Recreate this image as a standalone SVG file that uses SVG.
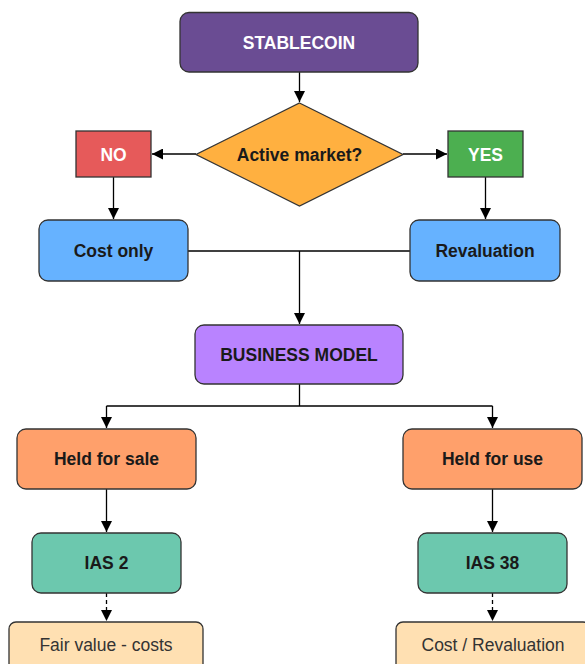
<svg xmlns="http://www.w3.org/2000/svg" width="585" height="664" viewBox="0 0 585 664">
<defs>
<marker id="arr" markerUnits="userSpaceOnUse" markerWidth="11" markerHeight="11" refX="11" refY="5.5" orient="auto" viewBox="0 0 11 11">
<path d="M0,0 L11,5.5 L0,11 z" fill="#000"/>
</marker>
<style>
.box{stroke:#333;stroke-width:1.3}
.t{font-family:"Liberation Sans",Arial,sans-serif;font-size:17.5px;font-weight:bold;text-anchor:middle;fill:#1a1a1a}
.w{fill:#fff}
.r{font-weight:normal;fill:#333}
.c{fill:none;stroke:#000;stroke-width:1.3}
.d{stroke-dasharray:4 3}
</style>
</defs>
<rect width="585" height="664" fill="#fff"/>
<g id="connectors">
<path class="c" d="M299.5,72 V102" marker-end="url(#arr)"/>
<path class="c" d="M196,154 H152" marker-end="url(#arr)"/>
<path class="c" d="M403,154 H447" marker-end="url(#arr)"/>
<path class="c" d="M113.5,177 V219" marker-end="url(#arr)"/>
<path class="c" d="M485.5,177 V219" marker-end="url(#arr)"/>
<path class="c" d="M188,251 H410"/>
<path class="c" d="M299.5,251 V324" marker-end="url(#arr)"/>
<path class="c" d="M299.5,384 V406"/>
<path class="c" d="M106.5,406 H492.5"/>
<path class="c" d="M106.5,406 V428" marker-end="url(#arr)"/>
<path class="c" d="M492.5,406 V428" marker-end="url(#arr)"/>
<path class="c" d="M106.5,489 V532" marker-end="url(#arr)"/>
<path class="c" d="M492.5,489 V532" marker-end="url(#arr)"/>
<path class="c d" d="M106.5,593 V621" marker-end="url(#arr)"/>
<path class="c d" d="M492.5,593 V621" marker-end="url(#arr)"/>
</g>
<g id="stablecoin">
<rect class="box" x="180" y="12.5" width="238" height="59.5" rx="9" fill="#6A4C93"/>
<text class="t w" x="299" y="48.5">STABLECOIN</text>
</g>
<g id="active-market">
<polygon class="box" points="299.5,103 403,154.5 299.5,206 196,154.5" fill="#FFB040"/>
<text class="t" x="299.5" y="160.5">Active market?</text>
</g>
<g id="no">
<rect class="box" x="76" y="131" width="75" height="46" fill="#E65A5A"/>
<text class="t w" x="113.5" y="160.5">NO</text>
</g>
<g id="yes">
<rect class="box" x="448" y="131" width="75" height="46" fill="#4CAF50"/>
<text class="t w" x="485.5" y="160.5">YES</text>
</g>
<g id="cost-only">
<rect class="box" x="39" y="220" width="149" height="61" rx="9" fill="#66B2FF"/>
<text class="t" x="113.5" y="257">Cost only</text>
</g>
<g id="revaluation">
<rect class="box" x="410" y="220" width="150" height="61" rx="9" fill="#66B2FF"/>
<text class="t" x="485" y="257">Revaluation</text>
</g>
<g id="business-model">
<rect class="box" x="195" y="325" width="208" height="59" rx="9" fill="#B983FF"/>
<text class="t" x="299" y="361">BUSINESS MODEL</text>
</g>
<g id="held-for-sale">
<rect class="box" x="17" y="429" width="179" height="60" rx="9" fill="#FFA06B"/>
<text class="t" x="106.5" y="465">Held for sale</text>
</g>
<g id="held-for-use">
<rect class="box" x="403" y="429" width="179" height="60" rx="9" fill="#FFA06B"/>
<text class="t" x="492.5" y="465">Held for use</text>
</g>
<g id="ias2">
<rect class="box" x="32" y="533" width="149" height="60" rx="9" fill="#6CC8AE"/>
<text class="t" x="106.5" y="569">IAS 2</text>
</g>
<g id="ias38">
<rect class="box" x="418" y="533" width="149" height="60" rx="9" fill="#6CC8AE"/>
<text class="t" x="492.5" y="569">IAS 38</text>
</g>
<g id="fair-value">
<rect class="box" x="9" y="622" width="194" height="60" rx="7" fill="#FFE0B2"/>
<text class="t r" x="106" y="651">Fair value - costs</text>
</g>
<g id="cost-revaluation">
<rect class="box" x="396" y="622" width="194" height="60" rx="7" fill="#FFE0B2"/>
<text class="t r" x="493" y="651">Cost / Revaluation</text>
</g>
</svg>
